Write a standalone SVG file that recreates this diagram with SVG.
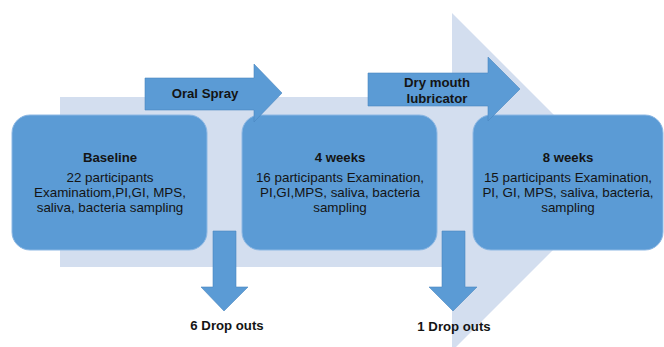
<svg xmlns="http://www.w3.org/2000/svg" width="664" height="347" viewBox="0 0 664 347">
<style>
.box{fill:#5B9BD5;stroke:#8DB8E4;stroke-width:1}
.arr{fill:#5B9BD5;stroke:#4A86C0;stroke-width:0.6}
.t{font-family:"Liberation Sans",Arial,sans-serif;font-size:13.4px;fill:#141414;text-anchor:middle}
.b{font-weight:bold;font-size:13.2px}
</style>
<rect width="664" height="347" fill="#ffffff"/>
<g id="timeline">
<polygon points="60,97 452,97 452,13 621,182 452,351 452,267 60,267" fill="#D3DEEF"/>
</g>
<g id="baseline">
<rect class="box" x="12" y="115" width="195" height="135" rx="18"/>
<text class="t b" x="110" y="162">Baseline</text>
<text class="t" x="110" y="182">22 participants</text>
<text class="t" x="110" y="197">Examinatiom,PI,GI, MPS,</text>
<text class="t" x="110" y="212">saliva, bacteria sampling</text>
</g>
<g id="week4">
<rect class="box" x="242" y="115" width="195" height="135" rx="18"/>
<text class="t b" x="340" y="162">4 weeks</text>
<text class="t" x="340" y="182">16 participants Examination,</text>
<text class="t" x="340" y="197">PI,GI,MPS, saliva, bacteria</text>
<text class="t" x="340" y="212">sampling</text>
</g>
<g id="week8">
<rect class="box" x="473" y="115" width="190" height="135" rx="18"/>
<text class="t b" x="568" y="162">8 weeks</text>
<text class="t" x="568" y="182">15 participants Examination,</text>
<text class="t" x="568" y="197">PI, GI, MPS, saliva, bacteria,</text>
<text class="t" x="568" y="212">sampling</text>
</g>
<g id="connectors">
<g id="oral-spray">
<polygon class="arr" points="145,78 254,78 254,64 282,93 254,122 254,110 145,110"/>
<text class="t b" x="205" y="98">Oral Spray</text>
</g>
<g id="dry-mouth">
<polygon class="arr" points="368,73 488,73 488,57 520,89 488,121 488,106 368,106"/>
<text class="t b" x="437" y="87">Dry mouth</text>
<text class="t b" x="437" y="103">lubricator</text>
</g>
<g id="dropout1">
<polygon class="arr" points="213,231 236,231 236,287 248,287 224,311 201,287 213,287"/>
<text class="t b" x="227" y="330">6 Drop outs</text>
</g>
<g id="dropout2">
<polygon class="arr" points="442,231 465,231 465,287 477,287 453,311 429,287 442,287"/>
<text class="t b" x="454" y="331">1 Drop outs</text>
</g>
</g>
</svg>
